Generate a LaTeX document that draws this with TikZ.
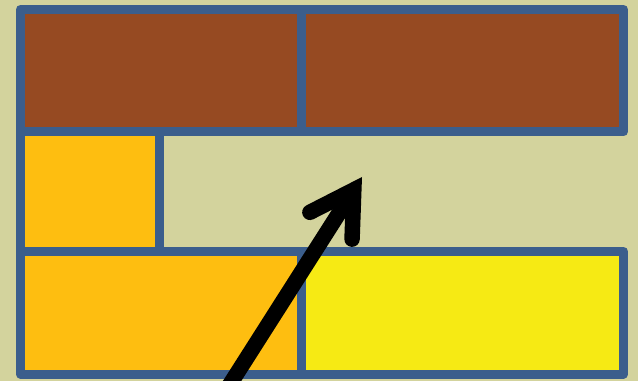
\documentclass[tikz,border=0pt]{standalone}
\usetikzlibrary{arrows.meta}
\definecolor{khaki}{RGB}{211,211,157}
\definecolor{brick}{RGB}{150,74,34}
\definecolor{amber}{RGB}{254,190,16}
\definecolor{lemon}{RGB}{246,234,20}
\definecolor{edge}{RGB}{59,94,140}
\begin{document}
\begin{tikzpicture}[x=0.02cm, y=-0.02cm,
  cell/.style={draw=edge, line width=0.18cm, line join=round},
  push/.style={line width=0.31cm, draw=black,
    -{Straight Barb[length=0.85cm, width=1.0cm, line cap=round]}}]
\useasboundingbox (0,0) rectangle (638,381);
\clip (0,0) rectangle (638,381);
\fill[khaki] (0,0) rectangle (638,381);
% top row
\draw[cell, fill=brick] (20.5,9.5) rectangle (301,132);
\draw[cell, fill=brick] (301,9.5) rectangle (623.5,132);
% middle row
\draw[cell, fill=amber] (20.5,132) rectangle (159,251.5);
% bottom row
\draw[cell, fill=amber] (20.5,251.5) rectangle (301,374);
\draw[cell, fill=lemon] (301,251.5) rectangle (623.5,374);
% arrow
\coordinate (tail) at (220,400);
\coordinate (head) at (362,177);
\draw[push] (tail) -- (head);
\end{tikzpicture}
\end{document}
